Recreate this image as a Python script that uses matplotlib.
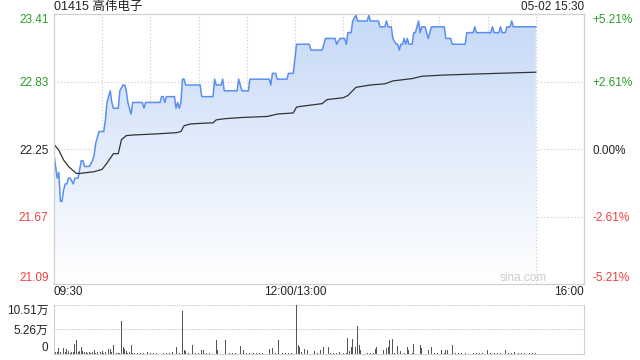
import matplotlib
matplotlib.use('Agg')
import matplotlib.pyplot as plt
from matplotlib.colors import LinearSegmentedColormap
import numpy as np

plt.rcParams['font.family'] = ['Liberation Sans', 'Noto Sans CJK SC']

title = '01415 高伟电子'
stamp = '05-02 15:30'
prev_close = 22.25

# minute index (09:30 = 0, lunch break removed) and price
price_t = [0, 2, 3, 4, 5, 6, 7, 8, 9, 10,
           12, 13, 15, 17, 18, 19, 22, 24, 25, 26,
           28, 31, 32, 33, 34, 35, 36, 37, 40, 41,
           43, 44, 45, 46, 48, 49, 55, 56, 57, 66,
           67, 68, 69, 70, 75, 76, 77, 78, 79, 80,
           81, 82, 91, 92, 99, 100, 101, 104, 105, 106,
           114, 115, 117, 121, 122, 134, 135, 136, 138, 139,
           145, 146, 149, 151, 152, 159, 160, 167, 169, 175,
           176, 178, 181, 182, 183, 185, 186, 188, 189, 195,
           196, 197, 202, 203, 206, 207, 208, 210, 211, 213,
           214, 215, 216, 217, 218, 219, 220, 221, 223, 224,
           225, 227, 228, 229, 231, 233, 235, 243, 244, 247,
           248, 256, 257, 261, 262, 263, 272, 273, 274, 277,
           278, 279, 281, 282, 284, 285, 286, 300]
price = [22.20, 22.00, 22.05, 21.80, 21.80, 21.90, 21.95, 21.95, 22.00, 22.00,
         21.95, 22.00, 22.00, 22.15, 22.15, 22.10, 22.10, 22.15, 22.20, 22.30,
         22.40, 22.40, 22.50, 22.65, 22.70, 22.75, 22.65, 22.60, 22.60, 22.75,
         22.80, 22.80, 22.75, 22.65, 22.55, 22.65, 22.65, 22.60, 22.65, 22.65,
         22.70, 22.70, 22.65, 22.70, 22.70, 22.60, 22.65, 22.60, 22.65, 22.85,
         22.85, 22.80, 22.80, 22.70, 22.70, 22.85, 22.80, 22.80, 22.85, 22.75,
         22.75, 22.85, 22.75, 22.75, 22.85, 22.85, 22.80, 22.90, 22.90, 22.85,
         22.85, 22.90, 22.90, 23.15, 23.15, 23.15, 23.10, 23.10, 23.20, 23.20,
         23.15, 23.20, 23.20, 23.15, 23.25, 23.25, 23.35, 23.40, 23.35, 23.35,
         23.40, 23.35, 23.35, 23.30, 23.30, 23.35, 23.30, 23.30, 23.20, 23.15,
         23.15, 23.10, 23.15, 23.15, 23.20, 23.15, 23.20, 23.15, 23.15, 23.25,
         23.25, 23.35, 23.25, 23.30, 23.30, 23.20, 23.30, 23.30, 23.20, 23.20,
         23.15, 23.15, 23.25, 23.25, 23.30, 23.25, 23.25, 23.30, 23.25, 23.25,
         23.30, 23.25, 23.25, 23.30, 23.30, 23.35, 23.30, 23.30]

avg_t = [0, 3, 6, 9, 11, 14, 16, 25, 30, 33,
         37, 40, 42, 45, 49, 64, 76, 79, 81, 85,
         91, 99, 101, 106, 116, 133, 139, 149, 151, 153,
         167, 170, 180, 183, 188, 197, 206, 211, 223, 229,
         242, 253, 269, 300]
avg = [22.29, 22.24, 22.155, 22.10, 22.075, 22.04, 22.04, 22.055, 22.075, 22.13,
       22.21, 22.21, 22.33, 22.365, 22.37, 22.38, 22.39, 22.40, 22.45, 22.465,
       22.47, 22.475, 22.50, 22.51, 22.52, 22.53, 22.55, 22.56, 22.61, 22.615,
       22.64, 22.675, 22.69, 22.71, 22.78, 22.80, 22.81, 22.835, 22.855, 22.875,
       22.885, 22.89, 22.897, 22.91]

# volume in 万 shares
vol_t = [0, 1, 2, 3, 4, 5, 6, 7, 8, 9,
         10, 11, 12, 13, 14, 15, 16, 17, 18, 19,
         20, 21, 22, 23, 24, 25, 26, 27, 28, 29,
         30, 31, 32, 33, 34, 35, 36, 37, 38, 39,
         40, 41, 42, 43, 44, 45, 46, 47, 48, 49,
         50, 52, 54, 56, 58, 60, 62, 64, 66, 68,
         70, 72, 74, 76, 78, 80, 81, 82, 84, 86,
         88, 90, 92, 93, 95, 97, 99, 101, 102, 104,
         107, 109, 111, 113, 116, 118, 120, 122, 124, 126,
         128, 130, 132, 134, 136, 138, 140, 142, 144, 146,
         148, 151, 152, 153, 154, 156, 158, 160, 162, 164,
         166, 168, 170, 171, 172, 174, 176, 178, 180, 182,
         183, 184, 185, 186, 188, 189, 190, 191, 193, 195,
         197, 199, 200, 201, 203, 205, 207, 208, 209, 211,
         212, 214, 216, 218, 220, 221, 223, 224, 226, 228,
         229, 231, 233, 235, 237, 239, 241, 243, 244, 245,
         248, 250, 252, 254, 256, 259, 261, 263, 265, 267,
         270, 272, 274, 276, 278, 281, 283, 285, 287, 289,
         291, 293, 296, 298, 300]
vol = [2.3, 0.4, 0.5, 1.3, 0.5, 0.3, 1.2, 0.4, 1.1, 0.7,
       0.3, 0.5, 0.4, 2.1, 3.1, 0.4, 0.6, 1.5, 0.6, 0.4,
       0.5, 0.3, 0.5, 0.3, 0.4, 0.8, 0.3, 0.4, 0.3, 0.5,
       0.7, 0.3, 0.4, 1.4, 1.1, 1.0, 0.4, 1.9, 0.3, 0.2,
       0.3, 0.3, 7.1, 1.5, 1.1, 0.6, 0.3, 0.4, 2.0, 0.3,
       0.2, 0.3, 0.2, 0.3, 0.4, 0.2, 0.3, 0.2, 0.3, 0.2,
       0.3, 0.2, 0.4, 1.4, 0.3, 9.15, 0.8, 0.6, 0.3, 1.9,
       0.3, 0.3, 0.9, 0.9, 0.3, 0.2, 0.3, 3.0, 0.9, 0.3,
       3.0, 0.3, 0.2, 0.3, 1.8, 0.9, 0.3, 0.2, 0.3, 0.2,
       0.3, 0.2, 0.3, 1.0, 1.3, 0.3, 2.9, 0.3, 0.2, 0.3,
       0.3, 10.51, 2.0, 1.4, 0.4, 1.0, 0.9, 0.3, 0.7, 0.3,
       0.9, 1.4, 5.05, 1.5, 0.3, 0.2, 0.3, 0.4, 0.3, 0.3,
       3.5, 0.7, 1.4, 3.3, 1.4, 6.0, 2.0, 0.8, 0.3, 0.2,
       0.3, 0.2, 1.0, 1.4, 1.1, 0.8, 1.2, 1.4, 3.0, 3.3,
       0.3, 1.8, 0.6, 0.3, 1.4, 0.8, 0.3, 2.1, 2.0, 1.9,
       1.2, 0.3, 0.8, 1.4, 0.3, 0.2, 0.8, 0.3, 0.8, 0.9,
       2.0, 0.3, 0.2, 0.3, 0.2, 0.6, 0.2, 0.3, 0.2, 0.3,
       0.8, 0.2, 0.3, 0.2, 0.3, 0.8, 0.2, 0.3, 0.4, 0.2,
       0.2, 0.2, 0.2, 0.2, 0.2]

price_ticks = [21.09, 21.67, 22.25, 22.83, 23.41]
pct_labels = ['-5.21%', '-2.61%', '0.00%', '+2.61%', '+5.21%']
vol_ticks = [0, 5.26, 10.51]
vol_labels = ['0', '5.26万', '10.51万']
time_labels = ['09:30', '12:00/13:00', '16:00']

green = '#2a9d2a'
red = '#f03c3c'
grid_c = '#c8c8c8'
edge_c = '#d0d0d0'

fig = plt.figure(figsize=(6.4, 3.6), dpi=100)
ax = fig.add_axes([54/640, 1-284/360, 530/640, 270/360])
axv = fig.add_axes([54/640, 1-354/360, 530/640, 49/360])

ymin, ymax = price_ticks[0], price_ticks[-1]
ax.set_xlim(0, 330)
ax.set_ylim(ymin, ymax)

# gradient fill under the price line
poly = ax.fill_between(price_t, price, ymin, color='none', lw=0)
cmap = LinearSegmentedColormap.from_list('g', ['#ffffff', '#c6d9f7'])
grad = np.linspace(0, 1, 256).reshape(-1, 1)
im = ax.imshow(grad, cmap=cmap, origin='lower', aspect='auto',
               extent=[0, 330, ymin, ymax], zorder=1)
im.set_clip_path(poly.get_paths()[0], transform=ax.transData)

for t in range(30, 330, 30):
    ax.axvline(t, color=grid_c, lw=0.8, ls=(0, (1, 2)), zorder=0.5)
for p in price_ticks[1:-1]:
    ax.axhline(p, color=grid_c, lw=0.8, ls=(0, (1, 2)), zorder=0.5)

ax.plot(price_t, price, color='#5a8ef0', lw=1.1, zorder=3)
ax.plot(avg_t, avg, color='#333333', lw=0.9, zorder=3)

for s in ax.spines.values():
    s.set_color(edge_c)
ax.set_xticks([])
ax.set_yticks(price_ticks)
ax.set_yticklabels(['%.2f' % p for p in price_ticks])
ax.tick_params(axis='y', length=0, pad=4, labelsize=8.5)
for lab, p in zip(ax.get_yticklabels(), price_ticks):
    lab.set_color(green if p > prev_close else red if p < prev_close else '#222222')
ax.get_yticklabels()[0].set_va('bottom')
ax.get_yticklabels()[-1].set_va('top')

axr = ax.twinx()
axr.set_ylim(ymin, ymax)
axr.set_yticks(price_ticks)
axr.set_yticklabels(pct_labels)
axr.tick_params(axis='y', length=0, pad=6, labelsize=8.5)
for lab, p in zip(axr.get_yticklabels(), price_ticks):
    lab.set_color(green if p > prev_close else red if p < prev_close else '#222222')
axr.get_yticklabels()[0].set_va('bottom')
axr.get_yticklabels()[-1].set_va('top')
for s in axr.spines.values():
    s.set_color(edge_c)

ax.text(0, 1.025, title, transform=ax.transAxes, ha='left', va='center',
        fontsize=9, color='#222222')
ax.text(1, 1.025, stamp, transform=ax.transAxes, ha='right', va='center',
        fontsize=8.5, color='#222222')
ax.text(0.93, 0.022, 'sina.com', transform=ax.transAxes, ha='right', va='center',
        fontsize=8.5, color='#cccccc')

for x, lab, ha in zip([0, 150, 330], time_labels, ['left', 'center', 'right']):
    ax.text(x, -0.03, lab, transform=ax.get_xaxis_transform(), ha=ha, va='center',
            fontsize=8.5, color='#222222')

# volume panel
axv.set_xlim(0, 330)
axv.set_ylim(0, vol_ticks[-1])
axv.bar(vol_t, vol, width=0.55, color='#555555', zorder=2)
for v in vol_ticks[1:]:
    axv.axhline(v, color=grid_c, lw=0.8, ls=(0, (1, 1)), zorder=0.5)
axv.spines['top'].set_visible(False)
for s in ['left', 'right', 'bottom']:
    axv.spines[s].set_color(edge_c)
axv.set_xticks([])
axv.set_yticks(vol_ticks)
axv.set_yticklabels(vol_labels)
axv.tick_params(axis='y', length=0, pad=4, labelsize=8.5, labelcolor='#222222')
axv.get_yticklabels()[0].set_va('bottom')
axv.get_yticklabels()[-1].set_va('top')

fig.savefig('out.png', dpi=100)
